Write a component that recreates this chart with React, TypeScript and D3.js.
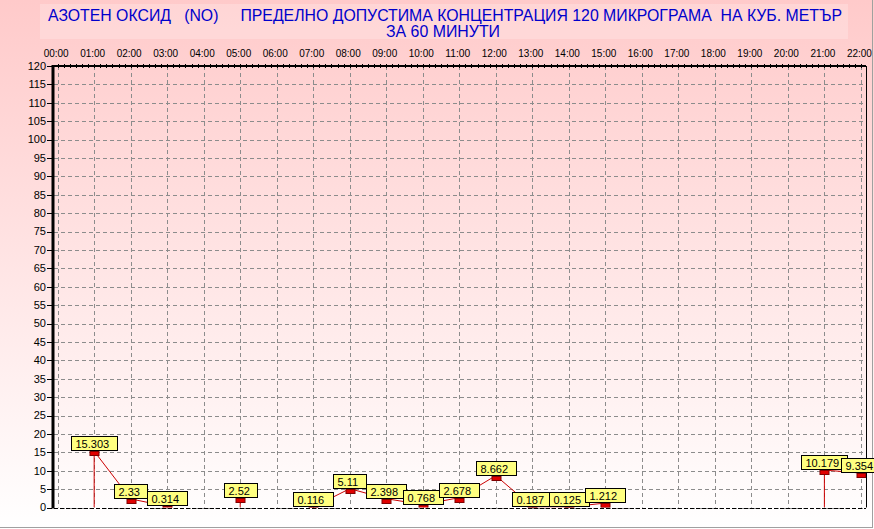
import React from "react";
import * as d3 from "d3";

const hourLabels = ["00:00","01:00","02:00","03:00","04:00","05:00","06:00","07:00","08:00","09:00","10:00","11:00","12:00","13:00","14:00","15:00","16:00","17:00","18:00","19:00","20:00","21:00","22:00"];
const obsHours = [1, 2, 3, 5, 7, 8, 9, 10, 11, 12, 13, 14, 15, 21, 22];
const noValues = [15.303, 2.33, 0.314, 2.52, 0.116, 5.11, 2.398, 0.768, 2.678, 8.662, 0.187, 0.125, 1.212, 10.179, 9.354];
const yTicks = d3.range(0, 121, 5);
const titleLine1 = "АЗОТЕН ОКСИД   (NO)     ПРЕДЕЛНО ДОПУСТИМА КОНЦЕНТРАЦИЯ 120 МИКРОГРАМА  НА КУБ. МЕТЪР";
const titleLine2 = "ЗА 60 МИНУТИ";

const W = 874, H = 529;
const L = 54, R = 866, T = 66, B = 507.5;
const FONT = "Arial, 'Liberation Sans', sans-serif";

function textW(s: string) {
  let w = 0;
  for (const c of s) w += c === "." ? 3.06 : 6.12;
  return w;
}

export default function App() {
  const x = d3.scaleLinear().domain([-0.1, 22.14]).range([L, R]);
  const y = d3.scaleLinear().domain([0, 120]).range([B, T]);

  const pts = obsHours.map((h, i) => ({ h, v: noValues[i] }));
  const segments: { h: number; v: number }[][] = [];
  pts.forEach((p, i) => {
    if (i === 0 || p.h - pts[i - 1].h > 1) segments.push([p]);
    else segments[segments.length - 1].push(p);
  });
  const line = d3.line<{ h: number; v: number }>().x(d => x(d.h)).y(d => y(d.v));

  const minorTicks = d3.range(0, 22.01, 1 / 6);

  return (
    <svg width={W} height={H} style={{ position: "absolute", left: 0, top: 0, display: "block" }} fontFamily={FONT}>
      <defs>
        <linearGradient id="bg" x1="0" y1="0" x2="0" y2="1">
          <stop offset="0" stopColor="#FFCACA" />
          <stop offset="1" stopColor="#FFFFFF" />
        </linearGradient>
        <clipPath id="plotClip">
          <rect x={L} y={T} width={R - L} height={B - T} />
        </clipPath>
      </defs>
      <rect x={0} y={0} width={W} height={H} fill="url(#bg)" />
      <rect x={40} y={4} width={808} height={35} fill="#FFFFFF" opacity={0.22} />
      <text x={48} y={21} fontSize={17} fill="#0000CC" textLength={794} lengthAdjust="spacingAndGlyphs" style={{ whiteSpace: "pre" }}>{titleLine1}</text>
      <text x={386} y={37} fontSize={17} fill="#0000CC" textLength={114} lengthAdjust="spacingAndGlyphs">{titleLine2}</text>

      {/* grid */}
      {yTicks.map(t => (
        <line key={"gy" + t} x1={L} x2={R} y1={Math.round(y(t)) + 0.5} y2={Math.round(y(t)) + 0.5} stroke="#8C8C8C" strokeDasharray="4,3" />
      ))}
      {hourLabels.map((_, i) => (
        <line key={"gx" + i} x1={Math.round(x(i)) + 0.5} x2={Math.round(x(i)) + 0.5} y1={T} y2={B} stroke="#8C8C8C" strokeDasharray="4,3" />
      ))}

      {/* axes */}
      <line x1={L - 1} x2={L - 1} y1={T - 1} y2={B + 1} stroke="#000" strokeWidth={3} />
      <line x1={L} x2={R} y1={T} y2={T} stroke="#000" strokeWidth={2} />
      {minorTicks.map((m, i) => (
        <line key={"mt" + i} x1={Math.round(x(m)) + 0.5} x2={Math.round(x(m)) + 0.5} y1={T - 2} y2={T + 2} stroke="#000" />
      ))}
      <line x1={L} x2={R} y1={Math.round(B) + 0.5} y2={Math.round(B) + 0.5} stroke="#000" strokeDasharray="4,2" />
      <line x1={R + 0.5} x2={R + 0.5} y1={T} y2={B} stroke="#000" />
      {yTicks.map(t => (
        <g key={"yt" + t}>
          <line x1={47} x2={L - 2} y1={Math.round(y(t)) + 0.5} y2={Math.round(y(t)) + 0.5} stroke="#000" />
          <text x={46} y={y(t)} dy="0.35em" fontSize={11} textAnchor="end" fill="#000">{t}</text>
        </g>
      ))}
      {hourLabels.map((h, i) => (
        <text key={"xl" + i} x={x(i) - 1.5} y={57} fontSize={11} textAnchor="middle" fill="#000" textLength={25} lengthAdjust="spacingAndGlyphs">{h}</text>
      ))}

      {/* frame */}
      <line x1={872.5} x2={872.5} y1={0} y2={528} stroke="#A0A0A0" />
      <line x1={0} x2={873} y1={527.5} y2={527.5} stroke="#A0A0A0" />

      {/* series */}
      <g clipPath="url(#plotClip)">
        {segments.map((s, i) => (
          <g key={"s" + i}>
            <line x1={x(s[0].h)} x2={x(s[0].h)} y1={y(0)} y2={y(s[0].v)} stroke="#CC0000" />
            <path d={line(s) || ""} fill="none" stroke="#CC0000" />
          </g>
        ))}
        {pts.map((p, i) => (
          <rect key={"m" + i} x={Math.round(x(p.h)) - 4} y={Math.round(y(p.v)) + 0.5} width={9} height={4} fill="#E00000" stroke="#800000" />
        ))}
      </g>
      {pts.map((p, i) => {
        const label = String(p.v);
        const w = Math.round(textW(label)) + 12;
        const bx = Math.round(x(p.h) - w / 2) + 0.5;
        const bottom = Math.round(y(p.v)) - 0.5;
        return (
          <g key={"l" + i}>
            <rect x={bx} y={bottom - 14} width={w} height={14} fill="#FFFF80" stroke="#000" />
            <text x={bx + 4} y={bottom - 3} fontSize={11} fill="#000">{label}</text>
          </g>
        );
      })}
    </svg>
  );
}
